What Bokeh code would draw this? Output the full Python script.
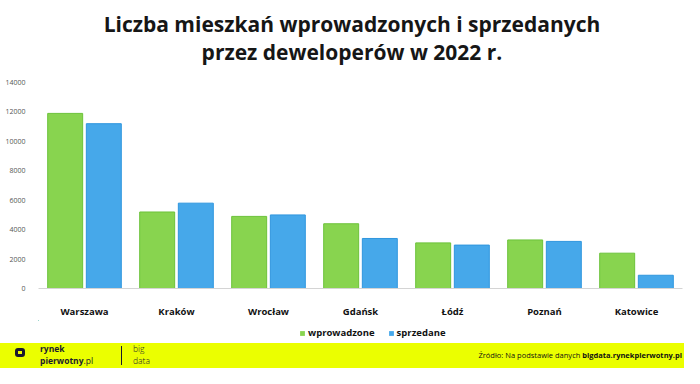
from bokeh.plotting import figure
from bokeh.models import (ColumnDataSource, FactorRange, Div, Legend, LegendItem, FixedTicker)
from bokeh.layouts import column
from bokeh.transform import dodge
from bokeh.embed import file_html
from bokeh.resources import INLINE

cities = ["Warszawa", "Kraków", "Wrocław", "Gdańsk", "Łódź", "Poznań", "Katowice"]
wprowadzone = [11900, 5200, 4900, 4400, 3100, 3300, 2400]
sprzedane = [11200, 5800, 5000, 3400, 2950, 3200, 900]
y_ticks = [0, 2000, 4000, 6000, 8000, 10000, 12000, 14000]
series_names = ["wprowadzone", "sprzedane"]
title_lines = ["Liczba mieszkań wprowadzonych i sprzedanych", "przez deweloperów w 2022 r."]
source_note = ("Źródło: Na podstawie danych", "bigdata.rynekpierwotny.pl")

GREEN, GREEN_L = "#88d44f", "#6cc23a"
BLUE, BLUE_L = "#46a8ea", "#2f96de"
YELLOW = "#ebff00"
DARK = "#1a1a2e"
FONT = "Open Sans"

W = 684
H_TITLE, H_FIG, H_LEG, H_FOOT = 70, 250, 23, 25

# ---------- title ----------
title = Div(
    text="<br>".join(title_lines),
    width=W, height=H_TITLE,
    styles={"font-family": FONT, "font-weight": "700", "font-size": "21px",
            "line-height": "28px", "color": "#161616", "text-align": "center",
            "width": f"{W}px", "height": f"{H_TITLE}px", "padding-top": "10px",
            "padding-left": "20px", "box-sizing": "border-box", "margin": "0"},
)

# ---------- chart ----------
src = ColumnDataSource(dict(city=cities, w=wprowadzone, s=sprzedane))

p = figure(x_range=FactorRange(*cities), y_range=(0, 14000), width=W, height=H_FIG,
           output_backend="svg", toolbar_location=None,
           min_border_left=38, min_border_right=2, min_border_top=12, min_border_bottom=26)
p.outline_line_color = None
p.xgrid.visible = False
p.ygrid.visible = False
p.x_range.range_padding = 0

r1 = p.vbar(x=dodge("city", -0.21, range=p.x_range), top="w", width=0.38, source=src,
            fill_color=GREEN, line_color=GREEN_L, line_width=1)
r2 = p.vbar(x=dodge("city", 0.21, range=p.x_range), top="s", width=0.38, source=src,
            fill_color=BLUE, line_color=BLUE_L, line_width=1)

p.yaxis.ticker = FixedTicker(ticks=y_ticks)
p.yaxis.axis_line_color = None
p.yaxis.major_tick_line_color = None
p.yaxis.minor_tick_line_color = None
p.yaxis.major_label_text_font = FONT
p.yaxis.major_label_text_font_size = "7px"
p.yaxis.major_label_text_color = "#555555"
p.yaxis.major_label_standoff = 7

p.xaxis.axis_line_color = "#d4d4d4"
p.xaxis.axis_line_width = 1
p.xaxis.major_tick_line_color = None
p.xaxis.minor_tick_line_color = None
p.xaxis.major_label_text_font = FONT
p.xaxis.major_label_text_font_style = "bold"
p.xaxis.major_label_text_font_size = "9.5px"
p.xaxis.major_label_text_color = "#111111"
p.xaxis.major_label_standoff = 10

# ---------- legend (separate strip; its bars are pushed far outside the view) ----------
pl = figure(x_range=FactorRange(*cities), y_range=(-200000, -199999), width=W, height=H_LEG,
            output_backend="svg", toolbar_location=None,
            min_border_left=0, min_border_right=0, min_border_top=0, min_border_bottom=0)
pl.axis.visible = False
pl.grid.visible = False
pl.outline_line_color = None
lr1 = pl.vbar(x=dodge("city", -40, range=pl.x_range), top="w", width=0.38, source=src,
              fill_color=GREEN, line_color=None)
lr2 = pl.vbar(x=dodge("city", -40, range=pl.x_range), top="s", width=0.38, source=src,
              fill_color=BLUE, line_color=None)
legend = Legend(items=[LegendItem(label=series_names[0], renderers=[lr1]),
                       LegendItem(label=series_names[1], renderers=[lr2])],
                orientation="horizontal", location=(261, 4),
                glyph_width=6, glyph_height=6, spacing=13, label_standoff=3,
                label_text_font=FONT, label_text_font_style="bold",
                label_text_font_size="9.5px", label_text_color="#111111",
                background_fill_alpha=0, border_line_color=None, padding=0, margin=0)
pl.add_layout(legend, "center")

# ---------- footer ----------
footer_html = f"""
<div style="position:relative;width:{W}px;height:{H_FOOT}px;background:{YELLOW};font-family:'{FONT}';color:{DARK};overflow:hidden;">
  <div style="position:absolute;left:15px;top:5px;width:10px;height:9px;border:3px solid {DARK};border-radius:3px;"></div>
  <div style="position:absolute;left:40px;top:0px;font-size:8.5px;font-weight:700;line-height:12px;">rynek<br>pierwotny<span style="font-weight:400">.pl</span></div>
  <div style="position:absolute;left:121px;top:3px;width:1px;height:19px;background:{DARK};"></div>
  <div style="position:absolute;left:133px;top:0px;font-size:8.5px;font-weight:300;line-height:12px;">big<br>data</div>
  <div style="position:absolute;right:2px;top:7px;font-size:7.5px;line-height:10px;color:#111;white-space:nowrap;">{source_note[0]} <b>{source_note[1]}</b></div>
</div>
"""
footer = Div(text=footer_html, width=W, height=H_FOOT, styles={"margin": "0", "padding": "0"})

layout = column(title, p, pl, footer, spacing=0)
open("out.html", "w").write(file_html(layout, INLINE))
